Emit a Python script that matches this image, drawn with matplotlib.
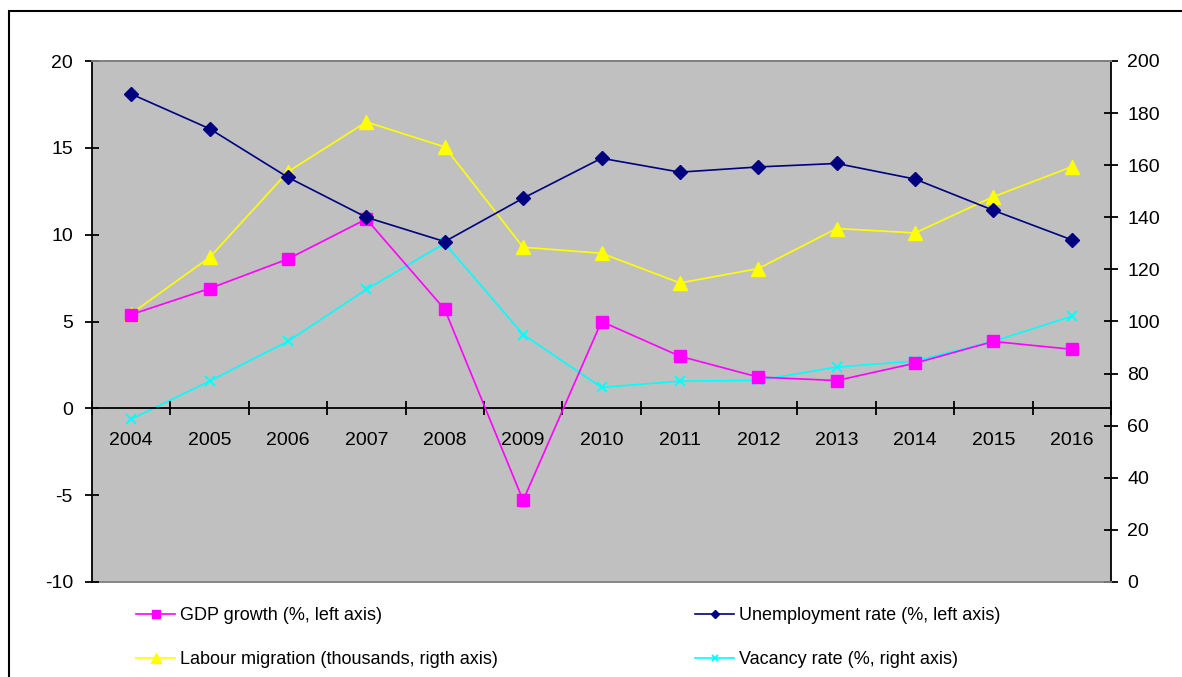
import matplotlib.pyplot as plt
from matplotlib.patches import Rectangle
from matplotlib.ticker import FixedLocator

plt.rcParams["font.family"] = ["Liberation Sans", "DejaVu Sans"]
plt.rcParams["axes.unicode_minus"] = False

years = ["2004", "2005", "2006", "2007", "2008", "2009", "2010",
         "2011", "2012", "2013", "2014", "2015", "2016"]
gdp_growth = [5.4, 6.9, 8.6, 10.9, 5.7, -5.3, 5.0, 3.0, 1.8, 1.6, 2.6, 3.85, 3.4]
unemployment = [18.1, 16.1, 13.3, 11.0, 9.6, 12.1, 14.4, 13.6, 13.9, 14.1, 13.2, 11.4, 9.7]
labour_migration = [103, 124.6, 157.5, 176.6, 167, 128.5, 126.2, 114.8, 120.3, 135.7, 134, 147.9, 159.4]
vacancy_rate = [62.5, 77.1, 92.4, 112.3, 130, 95, 74.7, 77.1, 77.4, 82.5, 84.8, 92.4, 102]

fig = plt.figure(figsize=(11.82, 6.77), dpi=100)
ax = fig.add_axes([92 / 1182, 1 - 582 / 677, 1019 / 1182, 521 / 677])
ax2 = ax.twinx()

x = list(range(len(years)))

l_gdp, = ax.plot(x, gdp_growth, color="#ff00ff", lw=1.2, marker="s", ms=8,
                 label="GDP growth (%, left axis)", zorder=3)
l_unemp, = ax.plot(x, unemployment, color="#000080", lw=1.2, marker="D", ms=7,
                   label="Unemployment rate (%, left axis)", zorder=3)
l_mig, = ax2.plot(x, labour_migration, color="#ffff00", lw=1.2, marker="^", ms=10,
                  label="Labour migration (thousands, rigth axis)")
l_vac, = ax2.plot(x, vacancy_rate, color="#00ffff", lw=1.2, marker="x", ms=7, mew=1.4,
                  label="Vacancy rate (%, right axis)")

# left-axis series drawn on top, grey plot area comes from the twin axes
ax.set_zorder(2)
ax.patch.set_visible(False)
ax2.set_zorder(1)
ax2.patch.set_visible(True)
ax2.set_facecolor("#c0c0c0")

ax.set_xlim(-0.5, 12.5)
ax.set_ylim(-10, 20)
ax2.set_ylim(0, 200)
ax.set_yticks([-10, -5, 0, 5, 10, 15, 20])
ax2.set_yticks(range(0, 201, 20))

# category axis runs along y=0, with ticks between categories
ax.spines["bottom"].set_position(("data", 0))
ax.spines["bottom"].set_color("black")
ax.spines["bottom"].set_linewidth(1.3)
ax.set_xticks(x)
ax.set_xticklabels(years)
ax.xaxis.set_minor_locator(FixedLocator([i + 0.5 for i in range(-1, 13)]))
ax.tick_params(axis="x", which="major", length=0, pad=17, labelsize=14)
ax.tick_params(axis="x", which="minor", direction="inout", length=9.5, width=1.3)

ax.tick_params(axis="y", direction="inout", length=9.5, width=1.3, pad=9, labelsize=14)
ax2.tick_params(axis="y", direction="inout", length=9.5, width=1.3, pad=7, labelsize=14)

for a in (ax, ax2):
    a.spines["top"].set_color("#808080")
    a.spines["top"].set_linewidth(1.3)
    a.spines["left"].set_linewidth(1.3)
    a.spines["right"].set_linewidth(1.3)
ax2.spines["bottom"].set_color("#808080")
ax2.spines["bottom"].set_linewidth(1.3)
ax.spines["right"].set_visible(False)
ax2.spines["left"].set_visible(False)

fig.legend(handles=[l_gdp, l_mig, l_unemp, l_vac], ncol=2, frameon=False,
           loc="upper left", bbox_to_anchor=(120 / 1182, 1 - 591 / 677),
           fontsize=13, handlelength=2.15, handletextpad=0.3, columnspacing=10.9,
           labelspacing=1.48, markerscale=0.65)

# outer chart border
fig.add_artist(Rectangle((9 / 1182, -0.2), 1.2, 1 - 11 / 677 + 0.2,
                         transform=fig.transFigure, fill=False,
                         edgecolor="black", linewidth=1.5, clip_on=False))

fig.savefig("out.png", dpi=100)
